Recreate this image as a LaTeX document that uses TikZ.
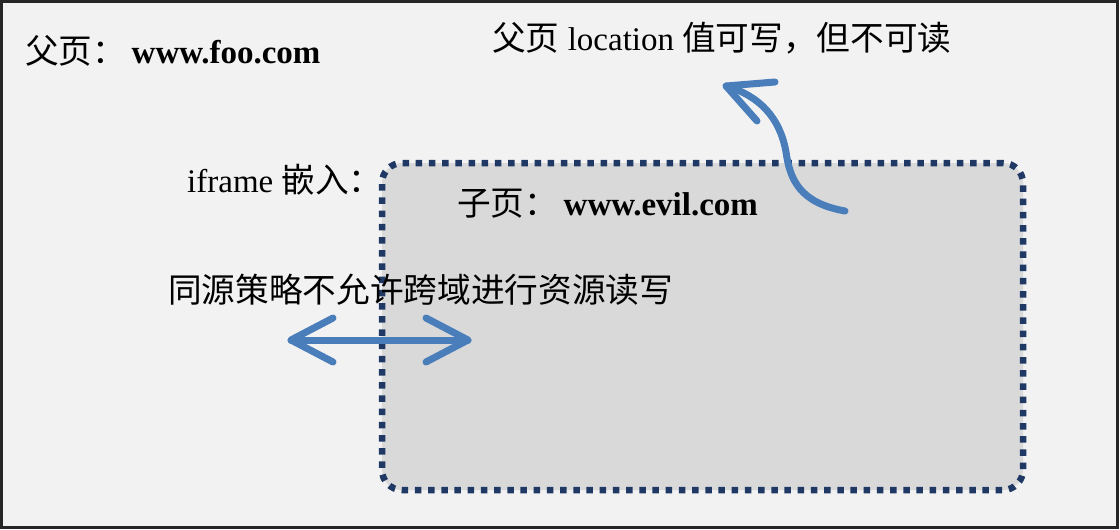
\documentclass[tikz,border=0pt]{standalone}
\usepackage{fontspec}
\setmainfont{Liberation Serif}
\newfontfamily\cjk[Scale=1.02]{Noto Sans CJK SC}
\definecolor{bggray}{HTML}{F2F2F2}
\definecolor{childgray}{HTML}{D9D9D9}
\definecolor{dotnavy}{HTML}{1F3864}
\definecolor{arrowblue}{HTML}{4A7EBB}
\begin{document}
\begin{tikzpicture}[x=1pt,y=-1pt,
  lbl/.style={anchor=base west, inner sep=0pt, font=\fontsize{33}{40}\selectfont},
  barrow/.style={draw=arrowblue, line width=7pt, line cap=round, line join=round},
  childbox/.style={draw=dotnavy, fill=childgray, line width=6.5pt, dash pattern=on 6.5pt off 6.7pt, rounded corners=20pt, inner sep=0pt}
  ]
\useasboundingbox (0,0) rectangle (1120,530);
\draw[line width=3pt, draw=black!85, fill=bggray] (1.5,1.5) rectangle (1117.5,527.5);
\node[childbox, minimum width=641pt, minimum height=327pt] (child) at (702.5,326.5) {};
% texts
\node[lbl] (parent) at (25,63) {{\cjk 父页：}\,\textbf{www.foo.com}};
\node[lbl] (note) at (492,50) {{\cjk 父页} location {\cjk 值可写，但不可读}};
\node[lbl] (iframe) at (187,192) {iframe {\cjk 嵌入：}};
\node[lbl] (childlbl) at (457,215) {{\cjk 子页：}\,\textbf{www.evil.com}};
\node[lbl] (sop) at (168,302) {\cjk 同源策略不允许跨域进行资源读写};
% double arrow
\coordinate (dl) at (291,340);
\coordinate (dr) at (468,340);
\draw[barrow] (dl) -- (dr);
\draw[barrow] (333,318) -- (dl) -- (333,362);
\draw[barrow] (426,318) -- (dr) -- (426,362);
% curved arrow
\coordinate (ctail) at (845,211);
\coordinate (ctip) at (726,86);
\draw[barrow] (ctail) .. controls (800,203) and (790,180) .. (786,152)
  .. controls (780,118) and (760,96) .. (ctip);
\draw[barrow] (775,82) -- (ctip) -- (757,121);
\end{tikzpicture}
\end{document}
